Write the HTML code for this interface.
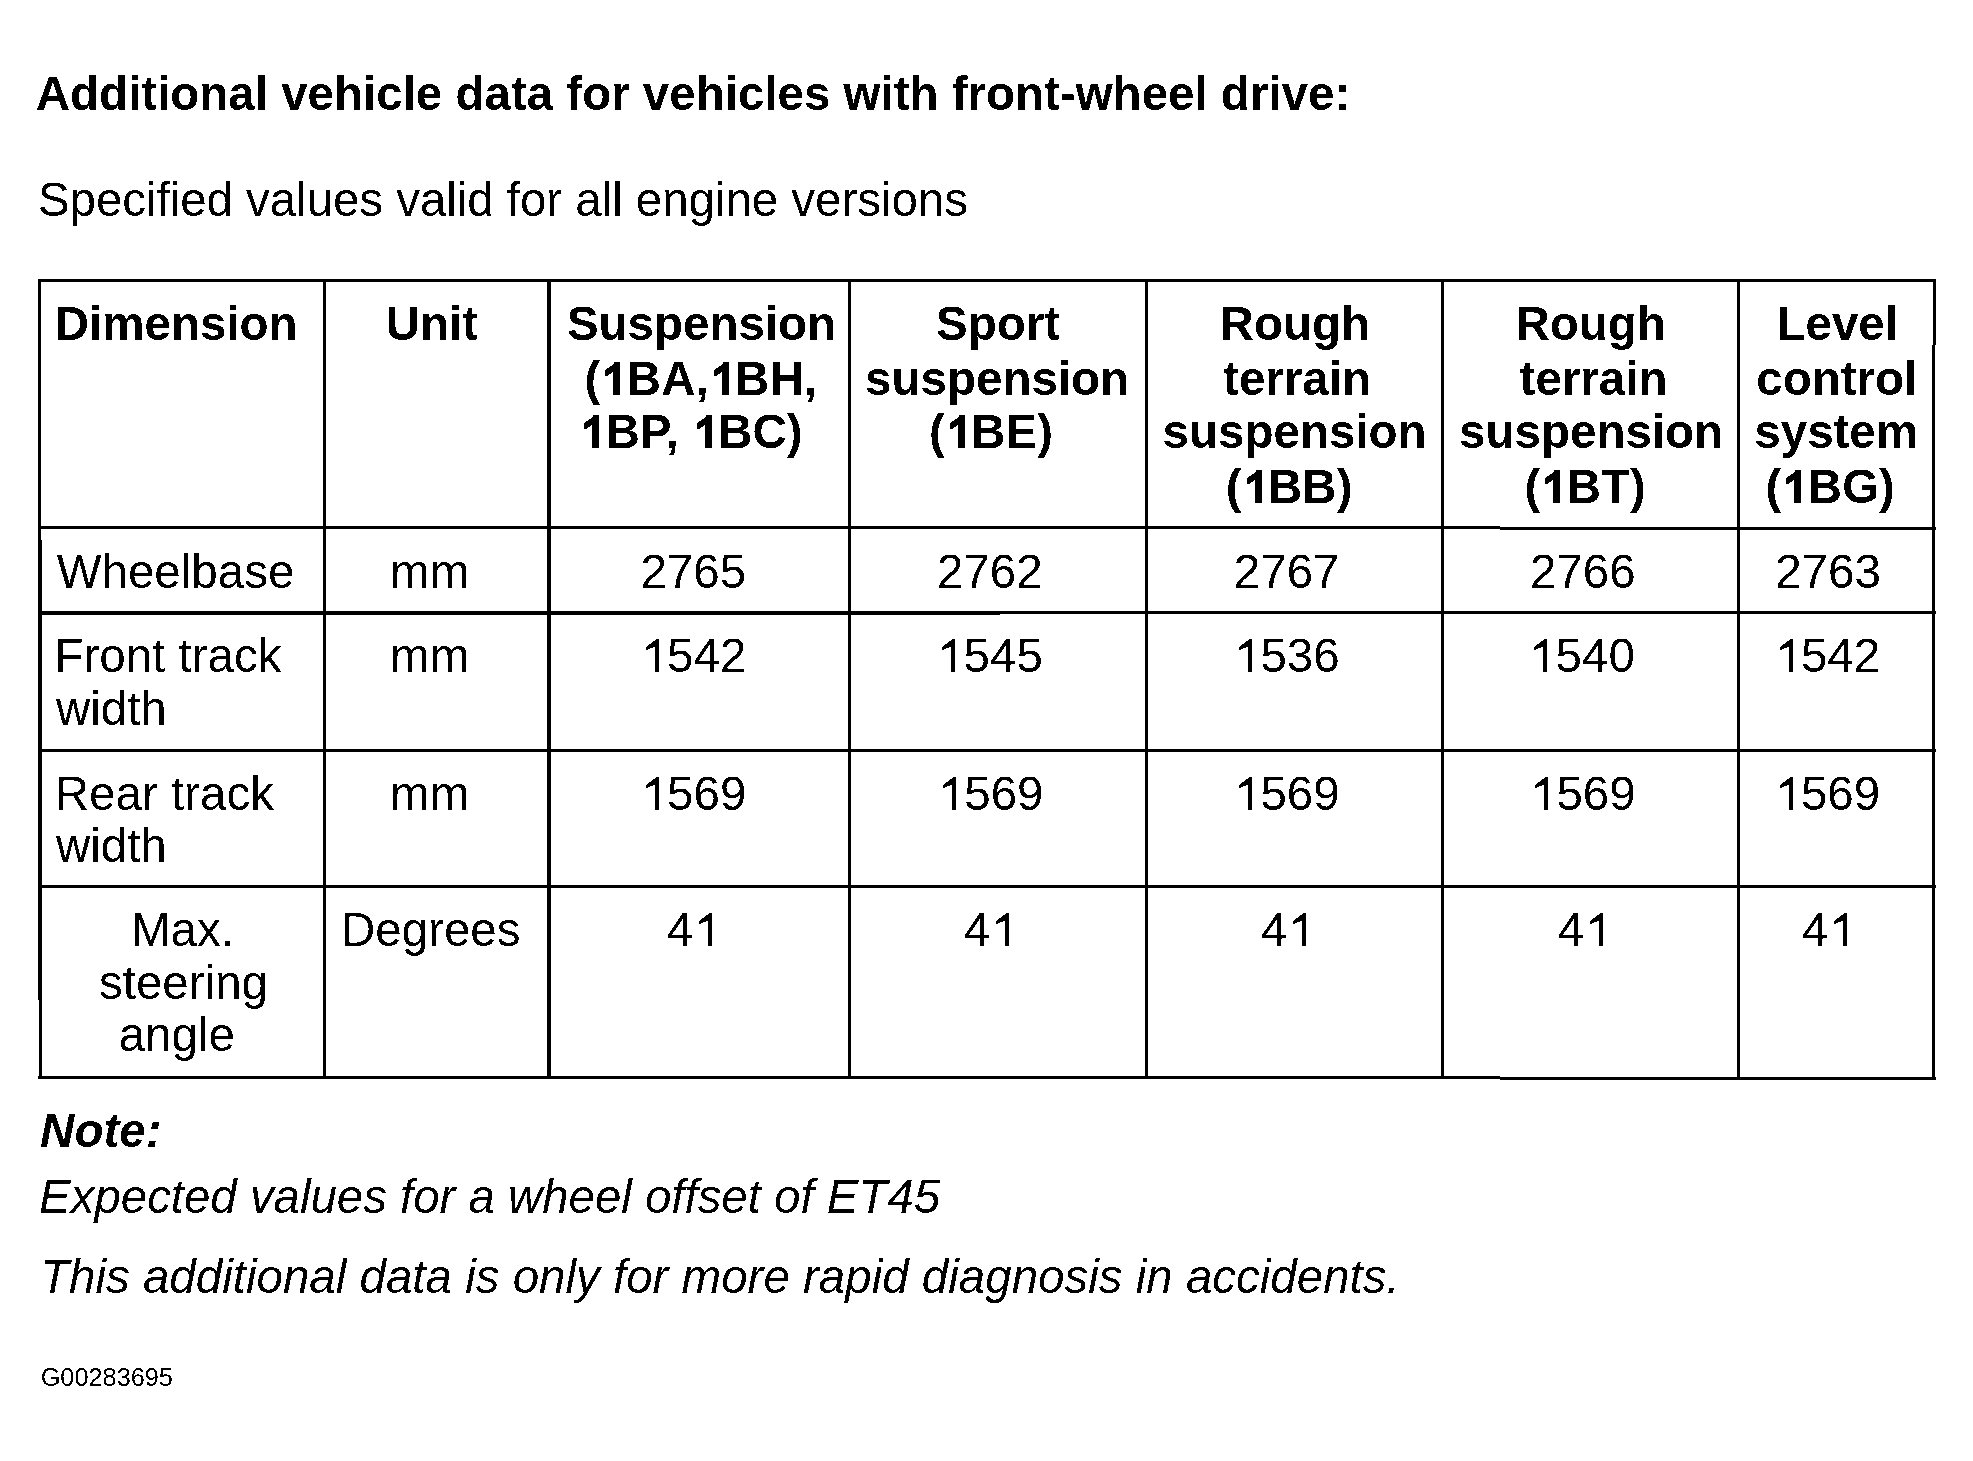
<!DOCTYPE html>
<html><head><meta charset="utf-8"><style>
html,body{margin:0;padding:0;background:#fff;}
body{width:1973px;height:1461px;position:relative;overflow:hidden;font-family:"Liberation Sans",sans-serif;color:#000;}
.t{position:absolute;white-space:nowrap;line-height:54px;font-size:47.5px;}
.b{font-weight:bold}.i{font-style:italic}.bi{font-weight:bold;font-style:italic}
.l{position:absolute;background:#000;}
.o{position:relative;color:transparent}
.o svg{position:absolute;left:0;top:0;width:0.55615em;height:1.1172em;overflow:visible;fill:#000}
#pg{position:absolute;left:0;top:0;width:1973px;height:1461px;background:#fff;filter:grayscale(1) contrast(1000);}
</style></head><body>
<div id="pg">

<div class="l" style="left:38px;top:279px;width:1898px;height:3px"></div>
<div class="l" style="left:38px;top:526px;width:1462px;height:3px"></div>
<div class="l" style="left:1500px;top:527px;width:436px;height:3px"></div>
<div class="l" style="left:38px;top:611px;width:962px;height:4px"></div>
<div class="l" style="left:1000px;top:611px;width:936px;height:3px"></div>
<div class="l" style="left:38px;top:749px;width:1898px;height:3px"></div>
<div class="l" style="left:38px;top:885px;width:1898px;height:3px"></div>
<div class="l" style="left:38px;top:1076px;width:1462px;height:3px"></div>
<div class="l" style="left:1500px;top:1077px;width:436px;height:3px"></div>
<div class="l" style="left:38px;top:279px;width:3px;height:261px"></div>
<div class="l" style="left:38px;top:540px;width:4px;height:460px"></div>
<div class="l" style="left:39px;top:1000px;width:3px;height:79px"></div>
<div class="l" style="left:323px;top:279px;width:3px;height:800px"></div>
<div class="l" style="left:547px;top:279px;width:4px;height:800px"></div>
<div class="l" style="left:848px;top:279px;width:3px;height:800px"></div>
<div class="l" style="left:1145px;top:279px;width:3px;height:800px"></div>
<div class="l" style="left:1441px;top:279px;width:3px;height:800px"></div>
<div class="l" style="left:1737px;top:279px;width:3px;height:800px"></div>
<div class="l" style="left:1933px;top:279px;width:3px;height:66px"></div>
<div class="l" style="left:1932px;top:345px;width:3px;height:735px"></div>
<div class="t b" style="left:35.8px;top:66.5px">Additional vehicle data for vehicles with front-wheel drive:</div>
<div class="t" style="letter-spacing:-0.045px;left:37.9px;top:172.5px">Specified values valid for all engine versions</div>
<div class="t b" style="left:54.8px;top:297.0px">Dimension</div>
<div class="t b" style="left:385.8px;top:297.0px">Unit</div>
<div class="t b" style="left:566.9px;top:297.0px">Suspension</div>
<div class="t b" style="left:584.6px;top:351.5px">(<span class="o">1<svg viewBox="0 -1854 1139 2288"><path transform="scale(1,-1)" d="M853 0L565 0L565 1000L339 828L210 828L210 1074L598 1341L598 1409L853 1409Z"/></svg></span>BA,<span class="o">1<svg viewBox="0 -1854 1139 2288"><path transform="scale(1,-1)" d="M853 0L565 0L565 1000L339 828L210 828L210 1074L598 1341L598 1409L853 1409Z"/></svg></span>BH,</div>
<div class="t b" style="left:579.1px;top:404.5px"><span class="o">1<svg viewBox="0 -1854 1139 2288"><path transform="scale(1,-1)" d="M853 0L565 0L565 1000L339 828L210 828L210 1074L598 1341L598 1409L853 1409Z"/></svg></span>BP, <span class="o">1<svg viewBox="0 -1854 1139 2288"><path transform="scale(1,-1)" d="M853 0L565 0L565 1000L339 828L210 828L210 1074L598 1341L598 1409L853 1409Z"/></svg></span>BC)</div>
<div class="t b" style="left:936.1px;top:297.0px">Sport</div>
<div class="t b" style="left:865.1px;top:351.5px">suspension</div>
<div class="t b" style="left:928.9px;top:404.5px">(<span class="o">1<svg viewBox="0 -1854 1139 2288"><path transform="scale(1,-1)" d="M853 0L565 0L565 1000L339 828L210 828L210 1074L598 1341L598 1409L853 1409Z"/></svg></span>BE)</div>
<div class="t b" style="left:1219.6px;top:297.0px">Rough</div>
<div class="t b" style="left:1223.1px;top:351.5px">terrain</div>
<div class="t b" style="left:1162.6px;top:404.5px">suspension</div>
<div class="t b" style="left:1225.8px;top:460.0px">(<span class="o">1<svg viewBox="0 -1854 1139 2288"><path transform="scale(1,-1)" d="M853 0L565 0L565 1000L339 828L210 828L210 1074L598 1341L598 1409L853 1409Z"/></svg></span>BB)</div>
<div class="t b" style="left:1515.5px;top:297.0px">Rough</div>
<div class="t b" style="left:1519.6px;top:351.5px">terrain</div>
<div class="t b" style="left:1459.1px;top:404.5px">suspension</div>
<div class="t b" style="left:1524.4px;top:460.0px">(<span class="o">1<svg viewBox="0 -1854 1139 2288"><path transform="scale(1,-1)" d="M853 0L565 0L565 1000L339 828L210 828L210 1074L598 1341L598 1409L853 1409Z"/></svg></span>BT)</div>
<div class="t b" style="left:1776.5px;top:297.0px">Level</div>
<div class="t b" style="left:1756.3px;top:351.5px">control</div>
<div class="t b" style="left:1754.3px;top:404.5px">system</div>
<div class="t b" style="left:1765.6px;top:460.0px">(<span class="o">1<svg viewBox="0 -1854 1139 2288"><path transform="scale(1,-1)" d="M853 0L565 0L565 1000L339 828L210 828L210 1074L598 1341L598 1409L853 1409Z"/></svg></span>BG)</div>
<div class="t" style="left:56.7px;top:544.8px">Wheelbase</div>
<div class="t" style="left:390.1px;top:544.8px">mm</div>
<div class="t" style="left:640.4px;top:544.8px">2765</div>
<div class="t" style="left:936.9px;top:544.8px">2762</div>
<div class="t" style="left:1233.8px;top:544.8px">2767</div>
<div class="t" style="left:1529.9px;top:544.8px">2766</div>
<div class="t" style="left:1775.2px;top:544.8px">2763</div>
<div class="t" style="left:54.4px;top:628.8px">Front track</div>
<div class="t" style="left:55.9px;top:681.8px">width</div>
<div class="t" style="left:390.1px;top:628.8px">mm</div>
<div class="t" style="left:640.7px;top:628.8px"><span class="o">1<svg viewBox="0 -1854 1139 2288"><path transform="scale(1,-1)" d="M775 0L600 0L600 1095L240 953L219 953L219 1082L655 1409L775 1409Z"/></svg></span>542</div>
<div class="t" style="left:937.2px;top:628.8px"><span class="o">1<svg viewBox="0 -1854 1139 2288"><path transform="scale(1,-1)" d="M775 0L600 0L600 1095L240 953L219 953L219 1082L655 1409L775 1409Z"/></svg></span>545</div>
<div class="t" style="left:1234.0px;top:628.8px"><span class="o">1<svg viewBox="0 -1854 1139 2288"><path transform="scale(1,-1)" d="M775 0L600 0L600 1095L240 953L219 953L219 1082L655 1409L775 1409Z"/></svg></span>536</div>
<div class="t" style="left:1529.2px;top:628.8px"><span class="o">1<svg viewBox="0 -1854 1139 2288"><path transform="scale(1,-1)" d="M775 0L600 0L600 1095L240 953L219 953L219 1082L655 1409L775 1409Z"/></svg></span>540</div>
<div class="t" style="left:1774.5px;top:628.8px"><span class="o">1<svg viewBox="0 -1854 1139 2288"><path transform="scale(1,-1)" d="M775 0L600 0L600 1095L240 953L219 953L219 1082L655 1409L775 1409Z"/></svg></span>542</div>
<div class="t" style="left:54.8px;top:766.8px">Rear track</div>
<div class="t" style="left:55.9px;top:818.7px">width</div>
<div class="t" style="left:390.1px;top:766.8px">mm</div>
<div class="t" style="left:640.7px;top:766.8px"><span class="o">1<svg viewBox="0 -1854 1139 2288"><path transform="scale(1,-1)" d="M775 0L600 0L600 1095L240 953L219 953L219 1082L655 1409L775 1409Z"/></svg></span>569</div>
<div class="t" style="left:937.8px;top:766.8px"><span class="o">1<svg viewBox="0 -1854 1139 2288"><path transform="scale(1,-1)" d="M775 0L600 0L600 1095L240 953L219 953L219 1082L655 1409L775 1409Z"/></svg></span>569</div>
<div class="t" style="left:1234.0px;top:766.8px"><span class="o">1<svg viewBox="0 -1854 1139 2288"><path transform="scale(1,-1)" d="M775 0L600 0L600 1095L240 953L219 953L219 1082L655 1409L775 1409Z"/></svg></span>569</div>
<div class="t" style="left:1530.0px;top:766.8px"><span class="o">1<svg viewBox="0 -1854 1139 2288"><path transform="scale(1,-1)" d="M775 0L600 0L600 1095L240 953L219 953L219 1082L655 1409L775 1409Z"/></svg></span>569</div>
<div class="t" style="left:1774.5px;top:766.8px"><span class="o">1<svg viewBox="0 -1854 1139 2288"><path transform="scale(1,-1)" d="M775 0L600 0L600 1095L240 953L219 953L219 1082L655 1409L775 1409Z"/></svg></span>569</div>
<div class="t" style="left:131.0px;top:903.0px">Max.</div>
<div class="t" style="left:99.0px;top:955.7px">steering</div>
<div class="t" style="left:118.7px;top:1008.1px">angle</div>
<div class="t" style="left:341.0px;top:903.0px">Degrees</div>
<div class="t" style="letter-spacing:0.7px;left:666.7px;top:903.0px">4<span class="o">1<svg viewBox="0 -1854 1139 2288"><path transform="scale(1,-1)" d="M775 0L600 0L600 1095L240 953L219 953L219 1082L655 1409L775 1409Z"/></svg></span></div>
<div class="t" style="letter-spacing:0.7px;left:963.7px;top:903.0px">4<span class="o">1<svg viewBox="0 -1854 1139 2288"><path transform="scale(1,-1)" d="M775 0L600 0L600 1095L240 953L219 953L219 1082L655 1409L775 1409Z"/></svg></span></div>
<div class="t" style="letter-spacing:0.7px;left:1260.9px;top:903.0px">4<span class="o">1<svg viewBox="0 -1854 1139 2288"><path transform="scale(1,-1)" d="M775 0L600 0L600 1095L240 953L219 953L219 1082L655 1409L775 1409Z"/></svg></span></div>
<div class="t" style="letter-spacing:0.7px;left:1557.8px;top:903.0px">4<span class="o">1<svg viewBox="0 -1854 1139 2288"><path transform="scale(1,-1)" d="M775 0L600 0L600 1095L240 953L219 953L219 1082L655 1409L775 1409Z"/></svg></span></div>
<div class="t" style="letter-spacing:0.7px;left:1801.9px;top:903.0px">4<span class="o">1<svg viewBox="0 -1854 1139 2288"><path transform="scale(1,-1)" d="M775 0L600 0L600 1095L240 953L219 953L219 1082L655 1409L775 1409Z"/></svg></span></div>
<div class="t bi" style="left:40.1px;top:1104.2px">Note:</div>
<div class="t i" style="letter-spacing:-0.05px;left:39.1px;top:1169.7px">Expected values for a wheel offset of ET45</div>
<div class="t i" style="left:40.0px;top:1249.8px">This additional data is only for more rapid diagnosis in accidents.</div>
<div class="t" style="font-size:25.3px;left:40.7px;top:1349.7px">G00283695</div>
</div></body></html>
